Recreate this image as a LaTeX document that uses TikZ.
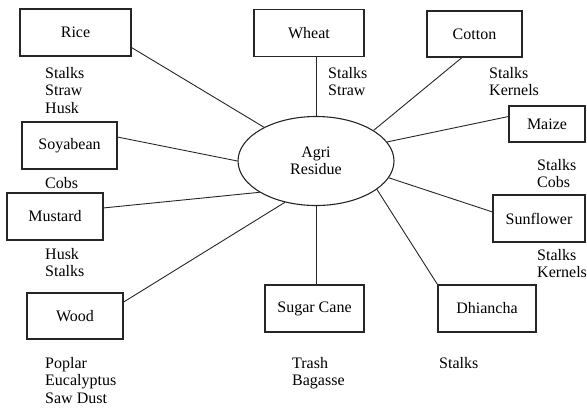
\documentclass[tikz,border=0pt]{standalone}
\usepackage{fontspec}
\setmainfont{Liberation Serif}
\usetikzlibrary{shapes.geometric}
\tikzset{
  % crop box
  crop/.style={draw=black!85, line width=1.1pt, minimum height=47pt, align=center,
    inner sep=2pt},
  % central ellipse
  hub/.style={ellipse, draw=black!85, line width=1.1pt, minimum width=156pt,
    minimum height=89pt, inner sep=0pt, align=center},
  % list of residues under a crop
  reslist/.style={anchor=north west, inner sep=0pt, align=left},
  % plain connector
  link/.style={line width=0.9pt, black!85},
}

\begin{document}
\begin{tikzpicture}[x=1pt, y=-1pt, font=\fontsize{16}{17.5}\selectfont]
  \useasboundingbox (0,0) rectangle (587,408);
  \node[hub] (agri) at (316,161) {Agri\\Residue};
  % crops
  \node[crop, minimum width=111pt] (rice) at (75.5,32.5) {Rice};
  \node[crop, minimum width=110pt] (wheat) at (309,33) {Wheat};
  \node[crop, minimum width=95pt, minimum height=46pt] (cotton) at (474.5,34) {Cotton};
  \node[crop, minimum width=76pt, minimum height=36pt] (maize) at (547,124) {Maize};
  \node[crop, minimum width=95pt] (soya) at (69.5,145.5) {Soyabean};
  \node[crop, minimum width=96pt] (mustard) at (55,216.5) {Mustard};
  \node[crop, minimum width=92pt] (sunflower) at (539,218.5) {Sunflower};
  \node[crop, minimum width=96pt, minimum height=46pt] (wood) at (75,316) {Wood};
  \node[crop, minimum width=99pt] (sugar) at (314.5,308.5) {Sugar Cane};
  \node[crop, minimum width=98pt] (dhiancha) at (487,308.5) {Dhiancha};
  % residues
  \node[reslist] (rice res) at (45,67) {Stalks\\Straw\\Husk};
  \node[reslist] (wheat res) at (328,67) {Stalks\\Straw};
  \node[reslist] (cotton res) at (489,67) {Stalks\\Kernels};
  \node[reslist] (soya res) at (45,177) {Cobs};
  \node[reslist] (maize res) at (537,159) {Stalks\\Cobs};
  \node[reslist] (mustard res) at (45,248) {Husk\\Stalks};
  \node[reslist] (sunflower res) at (537,249) {Stalks\\Kernels};
  \node[reslist] (wood res) at (45,357) {Poplar\\Eucalyptus\\Saw Dust};
  \node[reslist] (sugar res) at (292,357) {Trash\\Bagasse};
  \node[reslist] (dhiancha res) at (439,357) {Stalks};
  % connectors
  \draw[link] (rice.-15) -- (agri.147);
  \draw[link] (wheat.south -| agri.north) -- (agri.north);
  \draw[link] (cotton.-118) -- (agri.28);
  \draw[link] (maize.169) -- (agri.15);
  \draw[link] (soya.10) -- (agri.west);
  \draw[link] (mustard.10) -- (agri.209);
  \draw[link] (sunflower.172) -- (agri.-13);
  \draw[link] (wood.16) -- (agri.233);
  \draw[link] (agri.south) -- (agri.south |- sugar.north);
  \draw[link] (dhiancha.north west) -- (agri.-25);
\end{tikzpicture}
\end{document}
